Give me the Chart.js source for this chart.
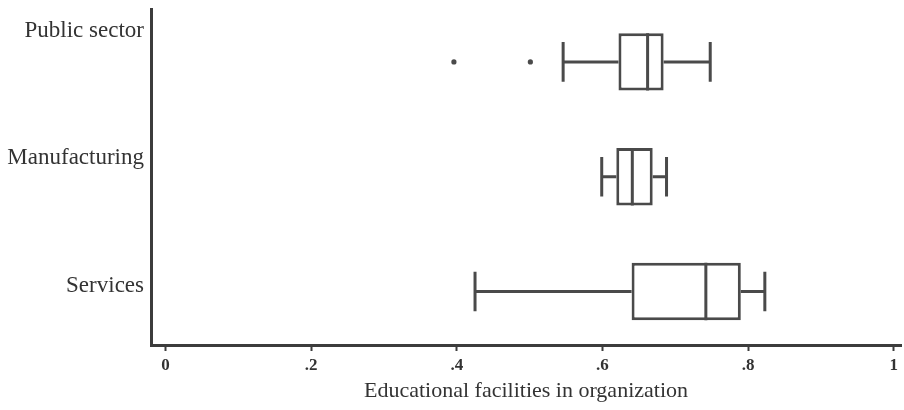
<!DOCTYPE html>
<html>
<head>
<meta charset="utf-8">
<script src="https://cdn.jsdelivr.net/npm/chart.js@4/dist/chart.umd.min.js"></script>
<style>
  html, body { margin: 0; padding: 0; background: #ffffff; }
  canvas { display: block; }
</style>
</head>
<body>
<canvas id="chart" width="904" height="410"></canvas>
<script>
// Box-plot summaries per sector
const categories   = ['Public sector', 'Manufacturing', 'Services'];
const lowerWhisker = [0.546, 0.599, 0.425];
const quartile1    = [0.622, 0.619, 0.640];
const medians      = [0.662, 0.641, 0.742];
const quartile3    = [0.684, 0.669, 0.790];
const upperWhisker = [0.748, 0.688, 0.823];
const outliers     = [[0.396, 0.501], [], []];

// Axis ticks
const xTickValues = [0, 0.2, 0.4, 0.6, 0.8, 1];
const xTickLabels = ['0', '.2', '.4', '.6', '.8', '1'];

const INK = '#4a4a4a';
const AXIS = '#3c3c3c';
const TEXT = '#333333';

// Whiskers, caps, medians and outside values drawn on top of the box bars
const boxExtras = {
  id: 'boxExtras',
  afterDatasetsDraw(chart) {
    const xs = chart.scales.x;
    const ys = chart.scales.y;
    const meta = chart.getDatasetMeta(0);
    const ctx = chart.ctx;
    ctx.save();
    ctx.strokeStyle = INK;
    ctx.fillStyle = INK;
    ctx.lineWidth = 3;
    ctx.lineCap = 'butt';
    categories.forEach((c, i) => {
      const yc = ys.getPixelForValue(i);
      const bh = meta.data[i].height;
      const capH = bh * 0.69;
      const xLo = xs.getPixelForValue(lowerWhisker[i]);
      const xQ1 = xs.getPixelForValue(quartile1[i]);
      const xMd = xs.getPixelForValue(medians[i]);
      const xQ3 = xs.getPixelForValue(quartile3[i]);
      const xHi = xs.getPixelForValue(upperWhisker[i]);
      ctx.beginPath();
      ctx.moveTo(xLo, yc); ctx.lineTo(xQ1, yc);
      ctx.moveTo(xQ3, yc); ctx.lineTo(xHi, yc);
      ctx.moveTo(xLo, yc - capH / 2); ctx.lineTo(xLo, yc + capH / 2);
      ctx.moveTo(xHi, yc - capH / 2); ctx.lineTo(xHi, yc + capH / 2);
      ctx.moveTo(xMd, yc - bh / 2); ctx.lineTo(xMd, yc + bh / 2);
      ctx.stroke();
      outliers[i].forEach(v => {
        ctx.beginPath();
        ctx.arc(xs.getPixelForValue(v), yc, 2.6, 0, Math.PI * 2);
        ctx.fill();
      });
    });
    ctx.restore();
  }
};

new Chart(document.getElementById('chart'), {
  type: 'bar',
  data: {
    datasets: [{
      label: 'Interquartile range',
      data: categories.map((c, i) => ({ x: [quartile1[i], quartile3[i]], y: i })),
      backgroundColor: '#ffffff',
      borderColor: INK,
      borderWidth: 3,
      borderSkipped: false,
      barPercentage: 0.5,
      categoryPercentage: 1.0,
      xAxisID: 'x',
      yAxisID: 'y'
    }]
  },
  options: {
    indexAxis: 'y',
    responsive: false,
    animation: false,
    layout: { padding: { top: 9, right: 3, left: 0, bottom: 8 } },
    plugins: {
      legend: { display: false },
      tooltip: { enabled: false }
    },
    scales: {
      x: {
        type: 'linear',
        position: 'bottom',
        min: -0.02,
        max: 1.01,
        afterBuildTicks(scale) {
          scale.ticks = xTickValues.map(v => ({ value: v }));
        },
        ticks: {
          color: TEXT,
          padding: 6,
          font: { family: '"Liberation Serif", serif', size: 17, weight: 'bold', lineHeight: 1.0 },
          maxRotation: 0,
          autoSkip: false,
          callback: (v, idx) => xTickLabels[idx]
        },
        grid: {
          drawOnChartArea: false,
          drawTicks: true,
          tickLength: 6,
          tickWidth: 2,
          tickColor: AXIS
        },
        border: { display: true, color: AXIS, width: 3 },
        title: {
          display: true,
          text: 'Educational facilities in organization',
          color: TEXT,
          font: { family: '"Liberation Serif", serif', size: 22, lineHeight: 1.0 },
          padding: { top: 0, bottom: 0 }
        }
      },
      // rows of the boxes (0 = top)
      y: {
        type: 'linear',
        display: false,
        reverse: true,
        offset: false,
        min: -0.461,
        max: 2.466,
        afterBuildTicks(scale) {
          scale.ticks = categories.map((c, i) => ({ value: i }));
        }
      },
      // sector names along the left edge
      lab: {
        type: 'linear',
        position: 'left',
        reverse: true,
        offset: false,
        min: -0.168,
        max: 2.461,
        afterBuildTicks(scale) {
          scale.ticks = categories.map((c, i) => ({ value: i }));
        },
        afterFit(scale) {
          scale.width = 151;
          scale.paddingTop = 0;
          scale.paddingBottom = 0;
        },
        ticks: {
          color: TEXT,
          padding: 7,
          autoSkip: false,
          font: { family: '"Liberation Serif", serif', size: 23 },
          callback: (v) => categories[Math.round(v)]
        },
        grid: { display: true, offset: false, drawOnChartArea: false, drawTicks: false },
        border: { display: true, color: AXIS, width: 3 }
      }
    }
  },
  plugins: [boxExtras]
});
</script>
</body>
</html>
